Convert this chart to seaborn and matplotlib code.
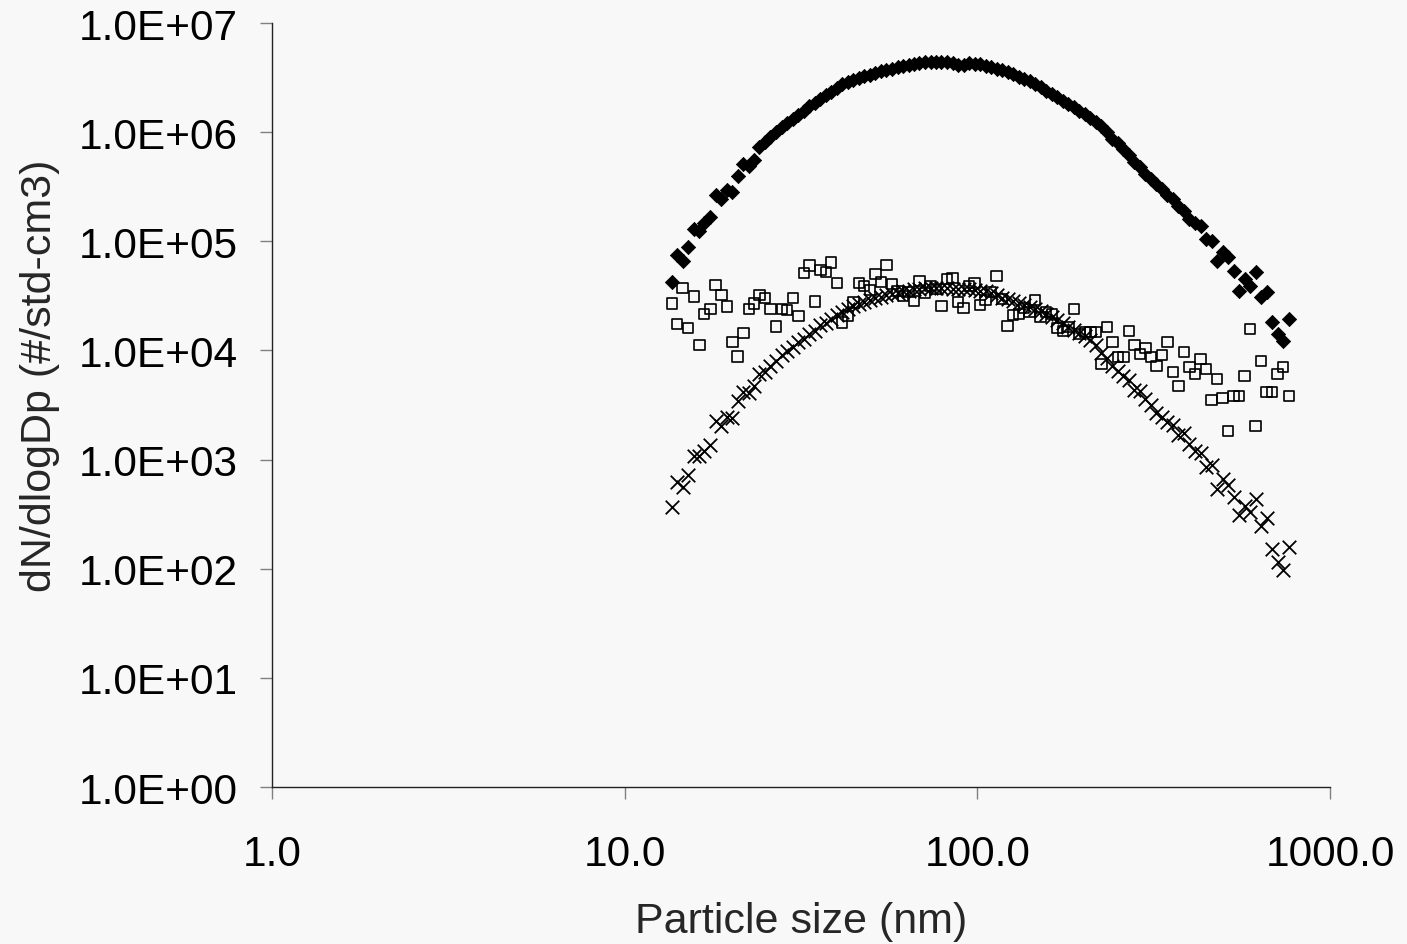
import matplotlib
matplotlib.use("Agg")
import matplotlib.pyplot as plt
import matplotlib.ticker as mticker
import pandas as pd
import seaborn as sns

# SMPS channel midpoints (nm)
particle_size = [
    13.6, 14.1, 14.6, 15.1, 15.7, 16.3, 16.8, 17.5, 18.1, 18.8,
    19.5, 20.2, 20.9, 21.7, 22.5, 23.3, 24.1, 25.0, 25.9, 26.9,
    27.9, 28.9, 30.0, 31.1, 32.2, 33.4, 34.6, 35.9, 37.2, 38.5,
    40.0, 41.4, 42.9, 44.5, 46.1, 47.8, 49.6, 51.4, 53.3, 55.2,
    57.3, 59.4, 61.5, 63.8, 66.1, 68.5, 71.0, 73.7, 76.4, 79.1,
    82.0, 85.1, 88.2, 91.4, 94.7, 98.2, 101.8, 105.5, 109.4, 113.4,
    117.6, 121.9, 126.3, 131.0, 135.8, 140.7, 145.9, 151.2, 156.8, 162.5,
    168.5, 174.7, 181.1, 187.7, 194.6, 201.7, 209.1, 216.7, 224.7, 232.9,
    241.4, 250.3, 259.5, 269.0, 278.8, 289.0, 299.6, 310.6, 322.0, 333.8,
    346.0, 358.7, 371.8, 385.4, 399.5, 414.2, 429.4, 445.1, 461.4, 478.3,
    495.8, 514.0, 532.8, 552.3, 572.5, 593.5, 615.3, 637.8, 661.2, 685.4,
    710.5, 736.5, 763.5,
]

# filled diamonds
dn_diamond = [
    4.24e4, 7.49e4, 6.60e4, 8.87e4, 1.30e5, 1.24e5, 1.47e5, 1.67e5, 2.66e5, 2.44e5,
    2.95e5, 2.83e5, 3.97e5, 5.11e5, 4.90e5, 5.56e5, 7.31e5, 8.12e5, 9.03e5, 1.00e6,
    1.11e6, 1.21e6, 1.32e6, 1.44e6, 1.56e6, 1.74e6, 1.85e6, 2.01e6, 2.19e6, 2.33e6,
    2.54e6, 2.76e6, 2.88e6, 3.01e6, 3.13e6, 3.27e6, 3.34e6, 3.49e6, 3.63e6, 3.71e6,
    3.79e6, 3.96e6, 4.04e6, 4.12e6, 4.21e6, 4.30e6, 4.40e6, 4.35e6, 4.40e6, 4.35e6,
    4.40e6, 4.30e6, 4.12e6, 4.12e6, 4.30e6, 4.21e6, 4.21e6, 4.04e6, 3.96e6, 3.79e6,
    3.71e6, 3.56e6, 3.41e6, 3.20e6, 3.07e6, 2.94e6, 2.76e6, 2.59e6, 2.38e6, 2.24e6,
    2.10e6, 1.93e6, 1.81e6, 1.70e6, 1.56e6, 1.47e6, 1.35e6, 1.24e6, 1.14e6, 1.00e6,
    8.65e5, 7.96e5, 7.01e5, 6.18e5, 5.33e5, 4.80e5, 4.14e5, 3.72e5, 3.35e5, 3.01e5,
    2.66e5, 2.44e5, 2.11e5, 1.90e5, 1.60e5, 1.47e5, 1.38e5, 1.05e5, 1.01e5, 6.60e4,
    7.98e4, 7.18e4, 5.35e4, 3.51e4, 4.52e4, 3.89e4, 5.23e4, 3.09e4, 3.43e4, 1.82e4,
    1.42e4, 1.22e4, 1.94e4,
]

# open squares
dn_square = [
    2.70e4, 1.75e4, 3.71e4, 1.61e4, 3.11e4, 1.12e4, 2.16e4, 2.40e4, 4.00e4, 3.22e4,
    2.52e4, 1.20e4, 8.77e3, 1.45e4, 2.40e4, 2.70e4, 3.22e4, 3.01e4, 2.40e4, 1.66e4,
    2.40e4, 2.35e4, 3.01e4, 2.08e4, 5.12e4, 5.98e4, 2.80e4, 5.49e4, 5.26e4, 6.42e4,
    4.15e4, 1.81e4, 2.08e4, 2.76e4, 4.15e4, 3.87e4, 3.60e4, 5.01e4, 4.24e4, 6.07e4,
    4.06e4, 3.51e4, 3.15e4, 3.45e4, 2.84e4, 4.33e4, 3.36e4, 3.89e4, 3.66e4, 2.55e4,
    4.52e4, 4.61e4, 2.78e4, 2.45e4, 3.89e4, 4.15e4, 2.61e4, 2.90e4, 3.43e4, 4.81e4,
    2.96e4, 1.67e4, 2.11e4, 2.16e4, 2.45e4, 2.25e4, 2.90e4, 2.02e4, 2.25e4, 2.16e4,
    1.61e4, 1.51e4, 1.64e4, 2.40e4, 1.42e4, 1.47e4, 1.47e4, 1.47e4, 7.51e3, 1.64e4,
    1.19e4, 8.71e3, 8.71e3, 1.51e4, 1.12e4, 9.27e3, 1.05e4, 8.71e3, 7.20e3, 9.08e3,
    1.19e4, 6.35e3, 4.72e3, 9.68e3, 7.05e3, 6.08e3, 8.35e3, 6.76e3, 3.52e3, 5.47e3,
    3.67e3, 1.83e3, 3.83e3, 3.83e3, 5.83e3, 1.57e4, 2.03e3, 8.00e3, 4.16e3, 4.16e3,
    6.08e3, 7.05e3, 3.83e3,
]

# crosses
dn_cross = [
    3.65e2, 6.27e2, 5.64e2, 7.22e2, 1.07e3, 1.09e3, 1.21e3, 1.36e3, 2.27e3, 2.04e3,
    2.44e3, 2.39e3, 3.47e3, 4.13e3, 4.07e3, 4.75e3, 6.08e3, 6.31e3, 7.25e3, 8.05e3,
    9.08e3, 9.95e3, 1.07e4, 1.19e4, 1.27e4, 1.42e4, 1.52e4, 1.71e4, 1.78e4, 1.94e4,
    2.11e4, 2.24e4, 2.40e4, 2.54e4, 2.66e4, 2.80e4, 2.92e4, 3.01e4, 3.09e4, 3.19e4,
    3.29e4, 3.36e4, 3.47e4, 3.54e4, 3.62e4, 3.66e4, 3.70e4, 3.73e4, 3.73e4, 3.73e4,
    3.70e4, 3.66e4, 3.66e4, 3.66e4, 3.66e4, 3.58e4, 3.51e4, 3.47e4, 3.36e4, 3.22e4,
    3.02e4, 2.96e4, 2.84e4, 2.72e4, 2.61e4, 2.50e4, 2.40e4, 2.30e4, 2.16e4, 2.02e4,
    1.90e4, 1.78e4, 1.64e4, 1.54e4, 1.45e4, 1.36e4, 1.25e4, 1.12e4, 9.48e3, 8.53e3,
    7.20e3, 6.48e3, 5.83e3, 5.36e3, 4.34e3, 4.25e3, 3.59e3, 3.16e3, 2.67e3, 2.45e3,
    2.21e3, 2.07e3, 1.68e3, 1.75e3, 1.39e3, 1.20e3, 1.15e3, 8.55e2, 8.92e2, 5.37e2,
    6.64e2, 5.85e2, 4.54e2, 3.11e2, 3.76e2, 3.31e2, 4.35e2, 2.46e2, 2.92e2, 1.52e2,
    1.15e2, 9.73e1, 1.58e2,
]

x_ticks = [1, 10, 100, 1000]
y_ticks = [1e0, 1e1, 1e2, 1e3, 1e4, 1e5, 1e6, 1e7]


def main():
    sns.set_style("ticks")
    plt.rcParams["font.family"] = ["Liberation Sans", "DejaVu Sans"]

    df = pd.DataFrame({
        "size": particle_size,
        "diamond": dn_diamond,
        "square": dn_square,
        "cross": dn_cross,
    })

    bg = "#f8f8f8"
    fig, ax = plt.subplots(figsize=(14.07, 9.45), dpi=100)
    fig.patch.set_facecolor(bg)
    ax.set_facecolor(bg)
    fig.subplots_adjust(left=0.1933, right=0.9453, top=0.9746, bottom=0.1661)

    sns.scatterplot(data=df, x="size", y="square", marker="s", s=56,
                    color="black", edgecolor="black", linewidth=1.2, ax=ax)
    ax.collections[-1].set_facecolor("none")
    sns.scatterplot(data=df, x="size", y="cross", marker="x", s=95,
                    color="black", linewidth=1.3, ax=ax)
    sns.scatterplot(data=df, x="size", y="diamond", marker="D", s=52,
                    color="black", edgecolor="black", linewidth=0.6, ax=ax)

    ax.set_xscale("log")
    ax.set_yscale("log")
    ax.set_xlim(1, 1000)
    ax.set_ylim(1, 1e7)
    ax.xaxis.set_major_locator(mticker.FixedLocator(x_ticks))
    ax.yaxis.set_major_locator(mticker.FixedLocator(y_ticks))
    ax.xaxis.set_minor_locator(mticker.NullLocator())
    ax.yaxis.set_minor_locator(mticker.NullLocator())
    ax.xaxis.set_major_formatter(mticker.FuncFormatter(lambda v, _: f"{v:.1f}"))
    ax.yaxis.set_major_formatter(mticker.FuncFormatter(lambda v, _: f"{v:.1E}"))

    sns.despine(ax=ax)
    for side in ["left", "bottom"]:
        ax.spines[side].set_color("#222222")
        ax.spines[side].set_linewidth(1.0)
    ax.tick_params(axis="both", direction="out", length=8.6, width=1.0,
                   color="#808080", labelsize=30.5, labelcolor="black")
    ax.tick_params(axis="y", pad=16)
    ax.tick_params(axis="x", pad=25)

    ax.set_xlabel("Particle size (nm)", fontsize=31)
    ax.set_ylabel("dN/dlogDp (#/std-cm3)", fontsize=31)
    ax.xaxis.set_label_coords(0.5, -0.149)
    ax.yaxis.set_label_coords(-0.200, 0.54)

    fig.savefig("out.png", dpi=100, facecolor=bg)


if __name__ == "__main__":
    main()
